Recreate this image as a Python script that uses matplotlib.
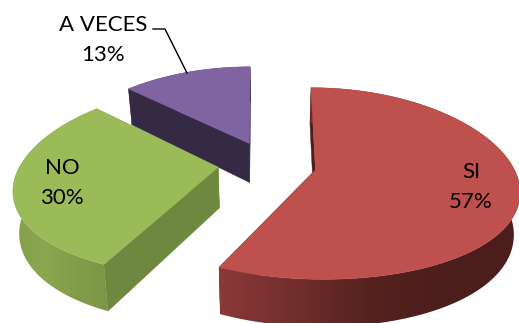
#!/usr/bin/env python3

import numpy as np
import matplotlib.pyplot as plt
from matplotlib.colors import LinearSegmentedColormap
from matplotlib.patches import Polygon

labels = ['SI', 'NO', 'A VECES']
values = [57, 30, 13]
top_colors = ['#BE504D', '#9BBB59', '#8064A2']
cut_colors = ['#4B1E1C', '#6F883F', '#352A44']
# shade of the curved walls, left to right across the wall
wall_shades = [['#8A3A38', '#722E2C', '#55221F', '#4B1E1C', '#4B1E1C'],
               ['#84A04B', '#8AA64F', '#829D4A', '#7B9646'],
               ['#352A44', '#352A44']]

# projection of the tilted pie, in pixels
gx, gy = 268.0, 165.0
ax_x, ax_y = 197.0, 92.5
persp_x, persp_y = 0.20, 0.14
explode = 0.245
depth = 40.5
shrink = 0.975
# small per-slice corrections: x shear with height, then a shift
shear = [3.6, 0.0, -2.0]
shift = [(0.0, 0.0), (-2.0, -2.0), (0.0, -1.5)]


def project(px, py, i):
    wx = 1 + persp_x * py
    wy = 1 + persp_y * py
    return ax_x * px / wx + shear[i] * py, -ax_y * py / wy, wy


def top_point(px, py, i):
    sx, sy, wy = project(px, py, i)
    return gx + shift[i][0] + sx, gy + shift[i][1] + sy


def bottom_point(px, py, i):
    sx, sy, wy = project(px, py, i)
    return gx + shift[i][0] + sx * shrink, gy + shift[i][1] + sy + depth / wy


def wedge_xy(t0, t1, off):
    # t runs clockwise from twelve o'clock, in degrees
    t = np.radians(np.linspace(t0, t1, 160))
    return off[0] + np.sin(t), off[1] + np.cos(t)


fig = plt.figure(figsize=(5.19, 3.23), dpi=100)
ax = fig.add_axes([0, 0, 1, 1])

edges = np.cumsum([0] + values) * 3.6
# back slice first, the red one lies in front of the others
for i in [2, 1, 0]:
    t0, t1 = edges[i], edges[i + 1]
    z = i * -3 + 10
    mid = np.radians((t0 + t1) / 2)
    off = (explode * np.sin(mid), explode * np.cos(mid))
    px, py = wedge_xy(t0, t1, off)

    # flat cut faces from the centre to both arc ends
    for k in [0, -1]:
        a = top_point(off[0], off[1], i)
        b = top_point(px[k], py[k], i)
        c = bottom_point(px[k], py[k], i)
        d = bottom_point(off[0], off[1], i)
        ax.fill([a[0], b[0], c[0], d[0]], [a[1], b[1], c[1], d[1]],
                color=cut_colors[i], lw=0.3, zorder=z)

    # curved wall: horizontal gradient clipped to the wall outline
    xt, yt = top_point(px, py, i)
    xb, yb = bottom_point(px, py, i)
    outline = np.c_[np.r_[xt, xb[::-1]], np.r_[yt, yb[::-1]]]
    patch = Polygon(outline, closed=True, fc='none', ec='none',
                    transform=ax.transData)
    ax.add_patch(patch)
    x0, x1 = outline[:, 0].min(), outline[:, 0].max()
    y0, y1 = outline[:, 1].min(), outline[:, 1].max()
    cmap = LinearSegmentedColormap.from_list('wall', wall_shades[i])
    img = ax.imshow(np.linspace(0, 1, 256)[None, :], cmap=cmap, aspect='auto',
                    extent=(x0, x1, y1, y0), zorder=z + 1,
                    interpolation='bilinear')
    img.set_clip_path(patch)

    # top face
    ax0, ay0 = top_point(off[0], off[1], i)
    ax.fill(np.r_[ax0, xt], np.r_[ay0, yt], color=top_colors[i], lw=0.3,
            zorder=z + 2)

ax.set_xlim(0, 519)
ax.set_ylim(323, 0)
ax.axis('off')

# data labels
label_pos = [(471, 187), (62, 183), (103, 40)]
for name, val, (x, y) in zip(labels, values, label_pos):
    ax.text(x, y, '{}\n{}%'.format(name, val), ha='center', va='center',
            family='Lato', fontsize=16, linespacing=1.65, color='black',
            zorder=20)

# leader line of the small slice
ax.plot([153, 165, 187], [29, 29, 73], color='black', lw=1.0, zorder=20)

plt.savefig('out.png', dpi=100)
